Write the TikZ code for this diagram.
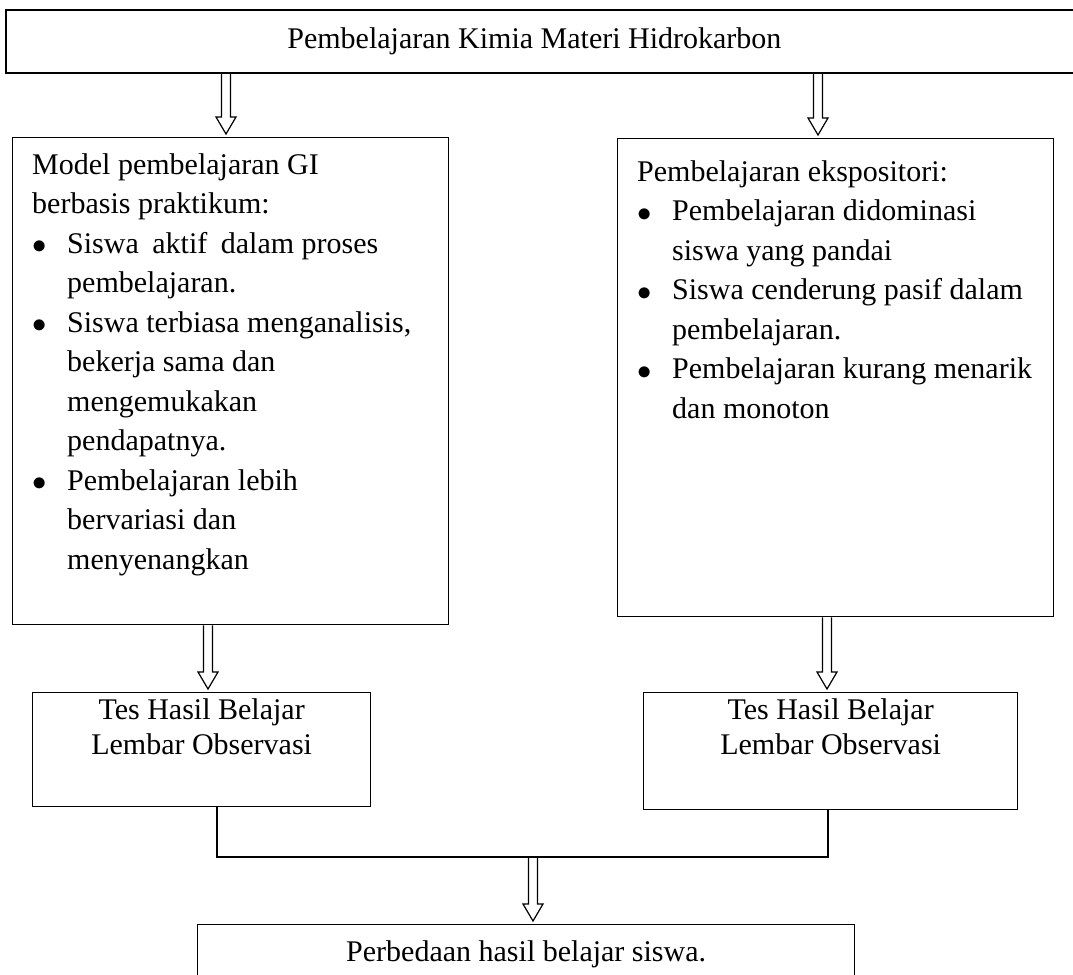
\documentclass[tikz,border=0pt]{standalone}
\usepackage{fontspec}
\setmainfont{Liberation Serif}
\usetikzlibrary{calc}

% hollow block arrow between two points
\newcommand{\hollowarrow}[2]{%
  \draw[arrowline] let \p1=(#1), \p2=(#2) in
    (\x1-4.5pt,\y1) -- (\x1-4.5pt,\y2+20pt) -- (\x1-10pt,\y2+20pt) -- (\x1,\y2+3pt)
    -- (\x1+10pt,\y2+20pt) -- (\x1+4.5pt,\y2+20pt) -- (\x1+4.5pt,\y1);}
\newcommand{\itm}[1]{\makebox[#1][l]{\raisebox{-0.6pt}{\scalebox{1.15}{$\bullet$}}}}

\begin{document}
\begin{tikzpicture}[x=1pt, y=-1pt,
  box/.style={draw, line width=1.3pt, rectangle, inner sep=0pt, anchor=north west},
  txt/.style={inner sep=0pt, align=left, anchor=north west, font=\fontsize{30}{39.5}\selectfont},
  ctxt/.style={inner sep=0pt, align=center, anchor=north, font=\fontsize{30}{35}\selectfont},
  arrowline/.style={draw, line width=1.2pt, line join=miter},
  joinline/.style={draw, line width=1.3pt}]

\useasboundingbox (0,0) rectangle (1073,974);
\clip (0,0) rectangle (1073,974);

\node[box, line width=1.8pt, minimum width=1073pt, minimum height=63pt] (top) at (5,9) {};
\node[ctxt, anchor=center] (toptxt) at ([xshift=-8pt]top.center) {Pembelajaran Kimia Materi Hidrokarbon};

\node[box, minimum width=436pt, minimum height=487pt] (gi) at (12,137) {};
\node[txt] (gitxt) at ([xshift=20pt, yshift=-16pt]gi.north west)
  {Model pembelajaran GI\\berbasis praktikum:\\
   \itm{35pt}Siswa\hspace{.45em}aktif\hspace{.45em}dalam proses\\
   \hspace*{35pt}pembelajaran.\\
   \itm{35pt}Siswa terbiasa menganalisis,\\
   \hspace*{35pt}bekerja sama dan\\
   \hspace*{35pt}mengemukakan\\
   \hspace*{35pt}pendapatnya.\\
   \itm{35pt}Pembelajaran lebih\\
   \hspace*{35pt}bervariasi dan\\
   \hspace*{35pt}menyenangkan};

\node[box, minimum width=436pt, minimum height=478pt] (eks) at (617,138) {};
\node[txt] (ekstxt) at ([xshift=20pt, yshift=-22pt]eks.north west)
  {Pembelajaran ekspositori:\\
   \itm{35pt}Pembelajaran didominasi\\
   \hspace*{35pt}siswa yang pandai\\
   \itm{35pt}Siswa cenderung pasif dalam\\
   \hspace*{35pt}pembelajaran.\\
   \itm{35pt}Pembelajaran kurang menarik\\
   \hspace*{35pt}dan monoton};

\node[box, minimum width=338pt, minimum height=114pt] (tesgi) at (32,692) {};
\node[ctxt] (tesgitxt) at ([yshift=-6pt]tesgi.north) {Tes Hasil Belajar\\Lembar Observasi};
\node[box, minimum width=374pt, minimum height=117pt] (teseks) at (643,692) {};
\node[ctxt] (tesekstxt) at ([yshift=-6pt]teseks.north) {Tes Hasil Belajar\\Lembar Observasi};

\node[box, minimum width=657pt, minimum height=80pt] (beda) at (197,924) {};
\node[ctxt] (bedatxt) at ([yshift=-16pt]beda.north) {Perbedaan hasil belajar siswa.};

\coordinate (lcol) at (226,0);
\coordinate (rcol) at (818,0);
\coordinate (lcol2) at (208,0);
\coordinate (rcol2) at (827,0);
\coordinate (ljoin) at (217,0);
\coordinate (rjoin) at (828,0);
\coordinate (join) at (533,857);

\hollowarrow{top.south -| lcol}{gi.north -| lcol}
\hollowarrow{top.south -| rcol}{eks.north -| rcol}
\hollowarrow{gi.south -| lcol2}{tesgi.north -| lcol2}
\hollowarrow{eks.south -| rcol2}{teseks.north -| rcol2}

\draw[joinline] (tesgi.south -| ljoin) |- (join) -| (teseks.south -| rjoin);
\hollowarrow{join}{beda.north -| join}

\end{tikzpicture}
\end{document}
